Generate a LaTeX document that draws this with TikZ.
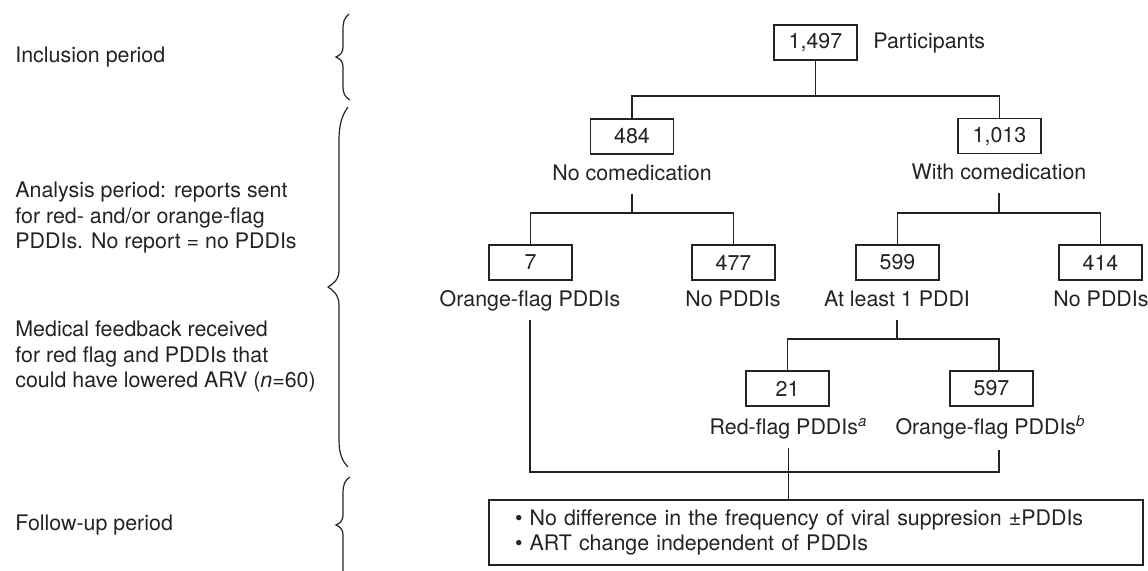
\documentclass[tikz,border=0pt]{standalone}
\usepackage{fontspec}
\setmainfont{TeX Gyre Heros}
\definecolor{ink}{RGB}{35,35,35}
\begin{document}
\begin{tikzpicture}[x=0.5pt,y=-0.5pt,
  every node/.style={font=\fontsize{10.7}{12.75}\selectfont, text=ink},
  numbox/.style={draw=ink, line width=0.65pt, minimum width=41.5pt, minimum height=17.5pt, inner sep=0pt},
  lbl/.style={inner sep=4pt, text height=8pt, text depth=2.3pt},
  side/.style={anchor=west, align=left, inner sep=0pt},
  conn/.style={draw=ink, line width=0.65pt},
  bracepath/.style={draw=ink, line width=0.6pt}]
\useasboundingbox (0,0) rectangle (1148,570);

% side texts
\node[side] (tinc) at (15,57) {Inclusion period};
\node[side] (tana) at (15,218) {Analysis period: reports sent\\for red- and/or orange-flag\\PDDIs. No report = no PDDIs};
\node[side] (tmed) at (15,356.5) {Medical feedback received\\for red flag and PDDIs that\\could have lowered ARV (\textit{n}=60)};
\node[side] (tfol) at (15,525) {Follow-up period};

% braces
\draw[bracepath] (349,14) .. controls (344,18) and (343,22) .. (343,30) -- (343,47)
  .. controls (343,53) and (340,55) .. (336,57) .. controls (340,59) and (343,61) .. (343,67)
  -- (343,86) .. controls (343,94) and (345,97) .. (350,100);
\draw[bracepath] (348,107) .. controls (342,115) and (339,125) .. (339,140) -- (339,270)
  .. controls (339,280) and (333,284) .. (328,287) .. controls (333,290) and (339,295) .. (339,305)
  -- (339,440) .. controls (339,455) and (343,462) .. (348,467);
\draw[bracepath] (350,477) .. controls (345,480) and (343,485) .. (343,492) -- (343,515)
  .. controls (343,521) and (340,523) .. (336,525) .. controls (340,527) and (343,529) .. (343,535)
  -- (343,572);

% boxes and labels
\node[numbox] (n1497) at (815.5,42.5) {1,497};
\node[lbl, anchor=west] (lpart) at (865,43) {Participants};
\node[numbox] (n484) at (632,136.5) {484};
\node[numbox] (n1013) at (999.5,136) {1,013};
\node[lbl] (lnocom) at (632,175) {No comedication};
\node[lbl] (lwithcom) at (999,174) {With comedication};
\node[numbox] (n7) at (530.5,262.5) {7};
\node[numbox] (n477) at (733.5,262.5) {477};
\node[numbox] (n599) at (897.5,262.5) {599};
\node[numbox] (n414) at (1100.5,262.5) {414};
\node[lbl] (lorange1) at (530,301) {Orange-flag PDDIs};
\node[lbl] (lnopddi1) at (733,301) {No PDDIs};
\node[lbl] (lleast) at (897,301) {At least 1 PDDI};
\node[lbl] (lnopddi2) at (1101,301) {No PDDIs};
\node[numbox] (n21) at (787.5,388.5) {21};
\node[numbox] (n597) at (991.5,388.5) {597};
\node[lbl] (lred) at (788.5,429) {Red-flag PDDIs\textsuperscript{\textit{a}}};
\node[lbl] (lorange2) at (990.5,429) {Orange-flag PDDIs\textsuperscript{\textit{b}}};
\node[draw=ink, line width=0.65pt, minimum height=32.5pt, inner xsep=13pt, inner ysep=3pt,
  text width=301pt, align=left] (res) at (816,532.5)
  {\textbullet\ No difference in the frequency of viral suppresion \textpm PDDIs\\
   \textbullet\ ART change independent of PDDIs};

% connectors
\coordinate (j1) at (815.5,96);
\draw[conn] (n1497.south) -- (j1);
\draw[conn] (n484.north) |- (j1) -| (n1013.north);
\coordinate (j2) at (632,213);
\draw[conn] (lnocom.south) -- (j2);
\draw[conn] (n7.north) |- (j2) -| (n477.north);
\coordinate (j3) at (999,213);
\draw[conn] (lwithcom.south) -- (j3);
\draw[conn] (n599.north) |- (j3) -| (n414.north);
\coordinate (j4) at (897,339);
\draw[conn] (lleast.south) -- (j4);
\coordinate (t597) at (999,371);
\draw[conn] (n21.north) |- (j4) -| (t597);
\coordinate (j5) at (789,472);
\coordinate (b597) at (999,450);
\draw[conn] (lorange1.south) |- (j5) -| (b597);
\draw[conn] (lred.south) -- (lred.south |- res.north);
\end{tikzpicture}
\end{document}
